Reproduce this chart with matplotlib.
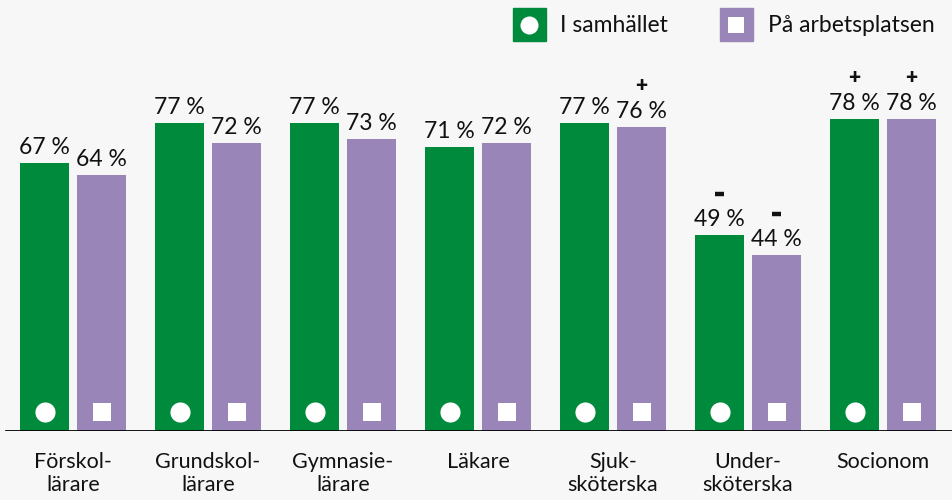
import numpy as np
import matplotlib.pyplot as plt
from matplotlib.patches import Rectangle

# Data
categories = ["Förskol-\nlärare", "Grundskol-\nlärare", "Gymnasie-\nlärare", "Läkare",
              "Sjuk-\nsköterska", "Under-\nsköterska", "Socionom"]
samhallet = [67, 77, 77, 71, 77, 49, 78]
arbetsplatsen = [64, 72, 73, 72, 76, 44, 78]
sign_samhallet = ["", "", "", "", "", "-", "+"]
sign_arbetsplatsen = ["", "", "", "", "+", "-", "+"]

green = '#008a3c'
purple = '#9a85b9'
bg = '#f7f7f7'
plt.rcParams['font.family'] = ['Lato', 'DejaVu Sans']

fig = plt.figure(figsize=(9.53, 5.0), dpi=100, facecolor=bg)
ax = fig.add_axes([0, 69/500, 1, 431/500])
ax.set_facecolor(bg)

x = np.arange(len(categories))
w = 49/135
off = 28.5/135
ax.bar(x - off, samhallet, w, color=green)
ax.bar(x + off, arbetsplatsen, w, color=purple)

# markers at the bottom of the bars
ax.plot(x - off, [4.8]*len(x), 'o', color='white', ms=14.5, mew=0)
ax.plot(x + off, [4.8]*len(x), 's', color='white', ms=13.5, mew=0)


def label(xs, vals, signs):
    for xi, v, s in zip(xs, vals, signs):
        ax.text(xi, v + 1.3, f"{v} %", ha='center', va='bottom', fontsize=16.5,
                color='#111111')
        if s == "+":
            ax.text(xi, v + 7.9, s, ha='center', va='bottom', fontsize=15,
                    fontweight='heavy', color='#111111')
        elif s == "-":
            # thick dash, like the reference
            ax.plot([xi - 0.035, xi + 0.035], [v + 10.3, v + 10.3], color='#111111',
                    lw=3.2, solid_capstyle='butt')


label(x - off, samhallet, sign_samhallet)
label(x + off, arbetsplatsen, sign_arbetsplatsen)

ax.set_xlim(-73/135, 880/135)
ax.set_ylim(0, 107.75)
for sp in ax.spines.values():
    sp.set_visible(False)
ax.axhline(0, xmin=6/953, xmax=1, color='black', lw=2)
ax.set_yticks([])
ax.set_xticks(x)
ax.set_xticklabels(categories, fontsize=15.5, color='#111111', linespacing=1.2)
ax.tick_params(axis='x', length=0, pad=15)

# legend
lg = fig.add_axes([0, 0, 1, 1], zorder=5)
lg.set_xlim(0, 953)
lg.set_ylim(500, 0)
lg.axis('off')
lg.add_patch(Rectangle((513, 8), 33, 33, color=green))
lg.plot([529.5], [24.5], 'o', color='white', ms=13, mew=0)
lg.text(560, 25, "I samhället", va='center', fontsize=16.5, color='#111111')
lg.add_patch(Rectangle((720, 8), 33, 33, color=purple))
lg.plot([736.5], [24.5], 's', color='white', ms=12, mew=0)
lg.text(768, 25, "På arbetsplatsen", va='center', fontsize=16.5, color='#111111')

fig.savefig('out.png', dpi=100, facecolor=bg)
